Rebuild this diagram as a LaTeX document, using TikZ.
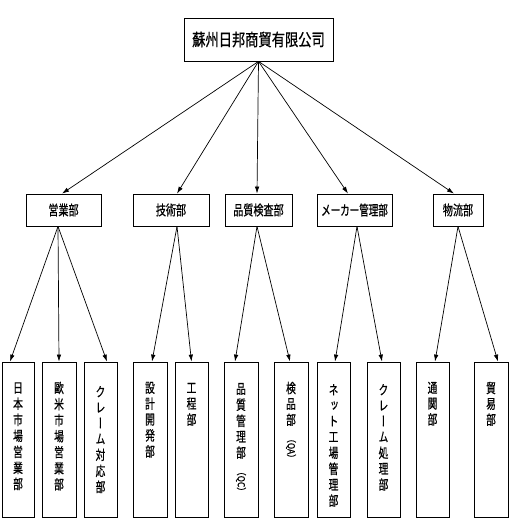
\documentclass[tikz,border=0pt]{standalone}
\usepackage{fontspec}
\usepackage{graphicx}
\newfontfamily\jp[FakeBold=0.8]{Noto Sans CJK JP}
\newfontfamily\jpv[RawFeature=+vert,FakeBold=0.8]{Noto Sans CJK JP}
\usetikzlibrary{arrows.meta}
\newcommand{\hsq}[2]{\scalebox{#1}[1]{#2}}
\newcommand{\vstack}[1]{\scalebox{0.72}[1]{\begin{tabular}{@{}c@{}}#1\end{tabular}}}
\newcommand{\vlat}[1]{\rotatebox[origin=c]{-90}{\scalebox{0.62}[1]{\jp #1}}}
\tikzset{
  box/.style={draw, line width=0.8pt, inner sep=0pt, fill=white},
  topbox/.style={box, minimum width=149pt, minimum height=43pt, font={\jp\fontsize{17}{17}\selectfont}},
  midbox/.style={box, minimum height=32pt, font={\jp\fontsize{14}{14}\selectfont}},
  leafbox/.style={box, minimum height=155pt},
  vtext/.style={anchor=north, inner sep=0pt, align=center, font={\jpv\fontsize{13.5}{15.7}\selectfont}},
  conn/.style={line width=0.7pt, -{Latex[length=7pt,width=4.5pt]}},
}
\begin{document}
\begin{tikzpicture}[x=1pt,y=-1pt]
\useasboundingbox (0,0) rectangle (510,518);
% top
\node[topbox] (top) at (258.5,39.5) {\hsq{0.78}{蘇州日邦商貿有限公司}};
% middle
\node[midbox, minimum width=75pt] (m1) at (63.5,210) {\hsq{0.72}{営業部}};
\node[midbox, minimum width=76pt] (m2) at (171,210) {\hsq{0.72}{技術部}};
\node[midbox, minimum width=67pt] (m3) at (258.5,210) {\hsq{0.72}{品質検査部}};
\node[midbox, minimum width=75pt] (m4) at (354.5,210) {\hsq{0.68}{メーカー管理部}};
\node[midbox, minimum width=50pt] (m5) at (458,210) {\hsq{0.72}{物流部}};
% leaves
\node[leafbox, minimum width=32pt] (b1) at (18,439.5) {};
\node[leafbox, minimum width=34pt] (b2) at (59,439.5) {};
\node[leafbox, minimum width=33pt] (b3) at (100.5,439.5) {};
\node[leafbox, minimum width=34pt] (b4) at (150,439.5) {};
\node[leafbox, minimum width=33pt] (b5) at (191.5,439.5) {};
\node[leafbox, minimum width=34pt] (b6) at (241,439.5) {};
\node[leafbox, minimum width=34pt] (b7) at (291,439.5) {};
\node[leafbox, minimum width=33pt] (b8) at (333.5,439.5) {};
\node[leafbox, minimum width=33pt] (b9) at (383.5,439.5) {};
\node[leafbox, minimum width=33pt] (b10) at (432.5,439.5) {};
\node[leafbox, minimum width=34pt] (b11) at (491,439.5) {};
% leaf texts
\node[vtext] (t1) at ([yshift=-20pt]b1.north) {\vstack{日\\本\\市\\場\\営\\業\\部}};
\node[vtext] (t2) at ([yshift=-20pt]b2.north) {\vstack{歐\\米\\市\\場\\営\\業\\部}};
\node[vtext] (t3) at ([yshift=-24pt]b3.north) {\vstack{ク\\レ\\ー\\ム\\対\\応\\部}};
\node[vtext] (t4) at ([yshift=-20pt]b4.north) {\vstack{設\\計\\開\\発\\部}};
\node[vtext] (t5) at ([yshift=-20pt]b5.north) {\vstack{工\\程\\部}};
\node[vtext] (t6) at ([yshift=-21pt]b6.north) {\vstack{品\\質\\管\\理\\部\\[5pt]\vlat{（QC）}}};
\node[vtext] (t7) at ([yshift=-20pt]b7.north) {\vstack{検\\品\\部\\[5pt]\vlat{（QA）}}};
\node[vtext] (t8) at ([yshift=-22pt]b8.north) {\vstack{ネ\\ッ\\ト\\工\\場\\管\\理\\部}};
\node[vtext] (t9) at ([yshift=-22pt]b9.north) {\vstack{ク\\レ\\ー\\ム\\処\\理\\部}};
\node[vtext] (t10) at ([yshift=-20pt]b10.north) {\vstack{通\\関\\部}};
\node[vtext] (t11) at ([yshift=-20pt]b11.north) {\vstack{貿\\易\\部}};
% connectors top -> middle
\draw[conn] (top.south) -- ([xshift=-1.5pt]m1.north);
\draw[conn] (top.south) -- ([xshift=6pt]m2.north);
\draw[conn] (top.south) -- ([xshift=-1.5pt]m3.north);
\draw[conn] (top.south) -- ([xshift=-6.5pt]m4.north);
\draw[conn] (top.south) -- ([xshift=-4pt]m5.north);
% middle -> leaves
\draw[conn] ([xshift=-5.5pt]m1.south) -- ([xshift=-8pt]b1.north);
\draw[conn] ([xshift=-5.5pt]m1.south) -- (b2.north);
\draw[conn] ([xshift=-5.5pt]m1.south) -- ([xshift=6.5pt]b3.north);
\draw[conn] ([xshift=6pt]m2.south) -- ([xshift=2pt]b4.north);
\draw[conn] ([xshift=6pt]m2.south) -- (b5.north);
\draw[conn] ([xshift=-1.5pt]m3.south) -- ([xshift=-6pt]b6.north);
\draw[conn] ([xshift=-1.5pt]m3.south) -- ([xshift=-1pt]b7.north);
\draw[conn] ([xshift=2.5pt]m4.south) -- ([xshift=1.5pt]b8.north);
\draw[conn] ([xshift=2.5pt]m4.south) -- ([xshift=-1.5pt]b9.north);
\draw[conn] (m5.south) -- ([xshift=2.5pt]b10.north);
\draw[conn] (m5.south) -- ([xshift=7pt]b11.north);
\end{tikzpicture}
\end{document}
